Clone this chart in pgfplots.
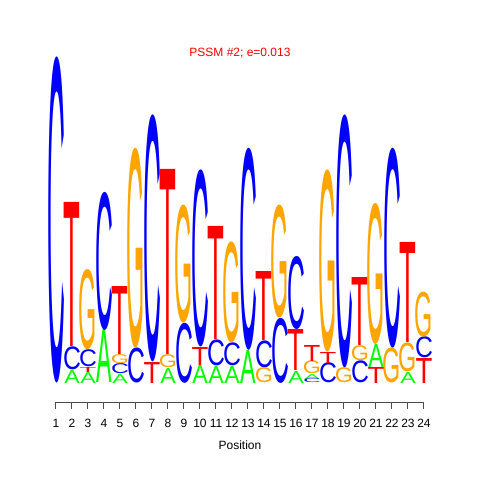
\documentclass[border=0pt]{standalone}
\usepackage{pgfplots}
\pgfplotsset{compat=1.18}
\usepackage{pgfplotstable}
\usepackage{graphicx}
\usepackage{fontspec}
\setmainfont{Liberation Sans}
\definecolor{colA}{RGB}{0,255,0}
\definecolor{colC}{RGB}{0,0,255}
\definecolor{colG}{RGB}{255,165,0}
\definecolor{colT}{RGB}{255,0,0}
% columns: position, base of letter, letter height (both in pixel units)
\pgfplotstableread{
x b h
2 0 13
3 0 11
4 0 53
5 0 9
8 0 15
10 0 18
11 0 17
12 0 17
13 0 33
16 0 12
17 4 5
21 16 23
23 0 11
}\tabA
\pgfplotstableread{
x b h
1 0 326
2 13 23
3 16 17
4 53 138
5 9 10
6 0 35
7 21 247
9 0 60
10 36 177
11 17 26
12 17 23
13 33 202
14 15 27
15 0 65
16 53 73
17 0 4
18 0 20
19 15 253
20 0 22
22 35 200
24 25 21
}\tabC
\pgfplotstableread{
x b h
3 33 80
5 19 9
6 35 200
8 15 13
9 60 118
12 40 101
14 0 15
15 65 113
17 9 13
18 31 182
19 0 15
20 22 15
21 39 141
22 0 35
23 11 29
24 46 45
}\tabG
\pgfplotstableread{
x b h
2 36 144
3 11 5
5 28 68
7 0 21
8 28 185
10 18 18
11 43 113
14 42 69
16 12 41
17 22 16
18 20 11
20 37 68
21 0 16
23 40 100
24 0 25
}\tabT
\pgfplotsset{
  letter/.style n args={3}{
    draw=none, mark=none,
    point meta=explicit symbolic,
    nodes near coords={\resizebox*{#2}{0.75\dimexpr\pgfplotspointmeta pt\relax}{\textcolor{#3}{#1}}},
    every node near coord/.append style={anchor=south, inner sep=0pt, outer sep=0pt},
  },
}
\begin{document}
\begin{tikzpicture}
\begin{axis}[
  x=12pt, y=0.75pt,
  xmin=1, xmax=24, ymin=-19, ymax=326,
  clip=false,
  axis x line=bottom, axis y line=none,
  axis line style={-, black!70, line width=0.75pt},
  xtick={1,...,24}, ytick=\empty,
  tick align=outside, major tick length=5.25pt,
  tick style={black!70, line width=0.75pt},
  /pgf/number format/assume math mode=true,
  xticklabel style={font=\fontsize{9}{10}\selectfont, anchor=north, inner sep=0pt, yshift=-7.25pt},
  xlabel={Position},
  xlabel style={font=\fontsize{9}{10}\selectfont, at={(axis description cs:0.5,-0.137)}, anchor=base, inner sep=0pt},
  title={PSSM \#2; e=0.013},
  title style={font=\fontsize{9}{10}\selectfont, text=red, at={(axis description cs:0.5,1.002)}, anchor=base, inner sep=0pt, yshift=-6pt},
]
\addplot[letter={A}{11.6pt}{colA}] table[x=x, y=b, meta=h] {\tabA};
\addplot[letter={C}{13.4pt}{colC}] table[x=x, y=b, meta=h] {\tabC};
\addplot[letter={G}{13.6pt}{colG}] table[x=x, y=b, meta=h] {\tabG};
\addplot[letter={T}{12.6pt}{colT}] table[x=x, y=b, meta=h] {\tabT};
\coordinate (bl) at (axis cs:-2.5,-97);
\coordinate (tr) at (axis cs:27.5,383);
\end{axis}
\path (bl) rectangle (tr);
\end{tikzpicture}
\end{document}
